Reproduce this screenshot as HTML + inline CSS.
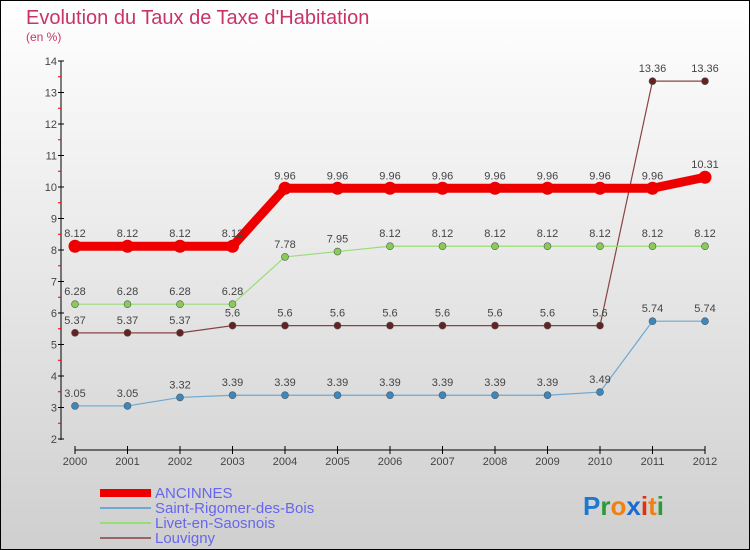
<!DOCTYPE html>
<html><head><meta charset="utf-8"><style>
body{margin:0;width:750px;height:550px;overflow:hidden}
svg{display:block;font-family:"Liberation Sans",sans-serif}
</style></head><body>
<svg id="c" width="750" height="550">
<defs><linearGradient id="bg" x1="0" y1="0" x2="0" y2="1"><stop offset="0" stop-color="#ffffff"/><stop offset="1" stop-color="#cfcfcf"/></linearGradient></defs>
<rect x="0.5" y="0.5" width="749" height="549" fill="url(#bg)" stroke="#000"/>
<text x="26" y="24" font-size="20" fill="#c8336a">Evolution du Taux de Taxe d'Habitation</text>
<text x="26" y="41" font-size="12" fill="#c8336a">(en %)</text>
<g id="axes"></g><g id="series"></g>
<g>
<rect x="100" y="489" width="51" height="8" fill="#ee0000"/>
<text x="155" y="498" font-size="15" fill="#6666ee">ANCINNES</text>
<rect x="100" y="507" width="51" height="2" fill="#6fa8d0"/>
<text x="155" y="513" font-size="15" fill="#6666ee">Saint-Rigomer-des-Bois</text>
<rect x="100" y="522" width="51" height="2" fill="#99dd77"/>
<text x="155" y="528" font-size="15" fill="#6666ee">Livet-en-Saosnois</text>
<rect x="100" y="537" width="51" height="2" fill="#996666"/>
<text x="155" y="543" font-size="15" fill="#6666ee">Louvigny</text>
</g>
<g font-size="26" font-weight="bold">
<text x="583" y="515"><tspan fill="#1a7ad0">P</tspan><tspan fill="#2a9a3a">r</tspan><tspan fill="#f08010">o</tspan><tspan fill="#1a6ad0">x</tspan><tspan fill="#e03010">i</tspan><tspan fill="#f08010">t</tspan><tspan fill="#2a9a3a">i</tspan></text>
</g>
</svg>
<script>
const years=[2000,2001,2002,2003,2004,2005,2006,2007,2008,2009,2010,2011,2012];
const yTicks=[2,3,4,5,6,7,8,9,10,11,12,13,14];
const ancinnes=[8.12,8.12,8.12,8.12,9.96,9.96,9.96,9.96,9.96,9.96,9.96,9.96,10.31];
const saintRigomer=[3.05,3.05,3.32,3.39,3.39,3.39,3.39,3.39,3.39,3.39,3.49,5.74,5.74];
const livet=[6.28,6.28,6.28,6.28,7.78,7.95,8.12,8.12,8.12,8.12,8.12,8.12,8.12];
const louvigny=[5.37,5.37,5.37,5.6,5.6,5.6,5.6,5.6,5.6,5.6,5.6,13.36,13.36];
const NS="http://www.w3.org/2000/svg";
const X=i=>75+i*52.5, Y=v=>439-(v-2)*31.5;
function el(t,a,p){const e=document.createElementNS(NS,t);for(const k in a)e.setAttribute(k,a[k]);p.appendChild(e);return e;}
const ax=document.getElementById('axes');
let e=el('line',{x1:61,y1:61,x2:61,y2:440,stroke:'#000'},ax);


e=el('line',{x1:75,y1:450,x2:705,y2:450,stroke:'#000'},ax);


yTicks.forEach((t,i)=>{
 el('line',{x1:58,x2:64,y1:Y(t),y2:Y(t),stroke:'#000'},ax);
 if(i<yTicks.length-1) el('line',{x1:58,x2:61,y1:Y(t+0.5),y2:Y(t+0.5),stroke:'#e00'},ax);
 const tx=el('text',{x:57,y:Y(t)+4,'font-size':11,fill:'#444','text-anchor':'end'},ax);tx.textContent=t;
 
 
});
years.forEach((yr,i)=>{
 el('line',{x1:X(i),x2:X(i),y1:446,y2:454,stroke:'#000'},ax);
 const tx=el('text',{x:X(i),y:465,'font-size':11,fill:'#444','text-anchor':'middle'},ax);tx.textContent=yr;
 
 
});
const sg=document.getElementById('series');
function series(d,color,w,r,name,fill){
 const g=el('g',{},sg);
 
 
 el('polyline',{points:d.map((v,i)=>X(i)+','+Y(v)).join(' '),fill:'none',stroke:color,'stroke-width':w,'stroke-linejoin':'round'},g);
 d.forEach((v,i)=>{
  const c=el('circle',{cx:X(i),cy:Y(v),r:r,fill:fill,stroke:'#555','stroke-width':r>5?0:0.6},g);
  
  
  const t=el('text',{x:X(i),y:Y(v)-9,'font-size':11,fill:'#444','text-anchor':'middle'},g);t.textContent=v;
  
  
 });
}
series(louvigny,'#884444',1.2,3.5,'series-louvigny','#662222');
series(livet,'#99dd77',1.2,3.5,'series-livet','#88cc55');
series(saintRigomer,'#6fa8d0',1.2,3.5,'series-saint-rigomer','#3a88c0');
series(ancinnes,'#ee0000',9,6.5,'series-ancinnes','#ee0000');
</script>
</body></html>
